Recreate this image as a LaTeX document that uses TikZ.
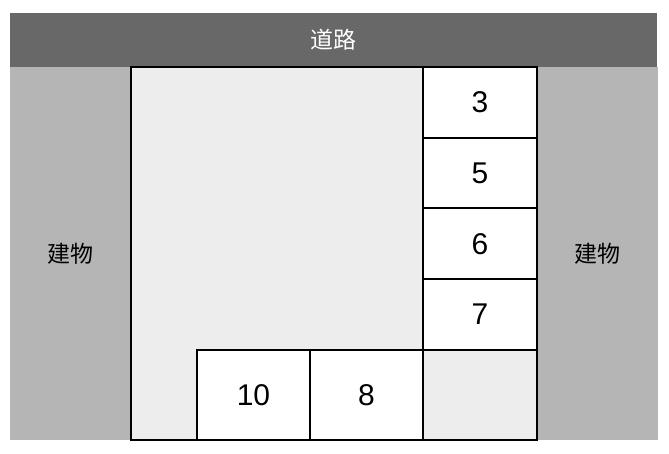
\documentclass[tikz,border=0pt]{standalone}
\usepackage{fontspec}
\setmainfont{Liberation Sans}
\newfontfamily\cjk{Noto Sans CJK SC}
\usetikzlibrary{positioning}
\definecolor{roadgray}{HTML}{686868}
\definecolor{housegray}{HTML}{B5B5B5}
\definecolor{lotgray}{HTML}{EDEDED}
\begin{document}
\begin{tikzpicture}[x=1pt,y=-1pt,
        every node/.style={inner sep=0pt,outer sep=0pt},
        area/.style={anchor=north west,font=\cjk\fontsize{23}{25}\selectfont},
        lot/.style={draw,line width=2pt,fill=lotgray},
        plot/.style={draw,line width=2pt,fill=white,minimum width=114pt,minimum height=70.75pt,
            font=\fontsize{30}{32}\selectfont},
        wide/.style={plot,minimum width=113pt,minimum height=90pt}]
        \useasboundingbox (0,0) rectangle (669,454);
        % road and buildings
        \node[area,fill=roadgray,text=white,minimum width=647.5pt,minimum height=54pt] (road) at (9.5,13) {道路};
        \node[area,fill=housegray,minimum width=121pt,minimum height=373pt] (westhouse) at (9.5,67) {建物};
        \node[area,fill=housegray,minimum width=120.5pt,minimum height=373pt] (easthouse) at (537,67) {建物};
        % the lot
        \node[lot,anchor=north west,minimum width=406.5pt,minimum height=373pt] (site) at (130.5,67) {};
        \node[plot,anchor=north east] (p3) at (site.north east) {3};
        \node[plot,below=0pt of p3] (p5) {5};
        \node[plot,below=0pt of p5] (p6) {6};
        \node[plot,below=0pt of p6] (p7) {7};
        \node[wide,minimum width=114pt,fill=lotgray,below=0pt of p7] (corner) {};
        \node[wide,left=0pt of corner] (p8) {8};
        \node[wide,left=0pt of p8] (p10) {10};
\end{tikzpicture}
\end{document}
